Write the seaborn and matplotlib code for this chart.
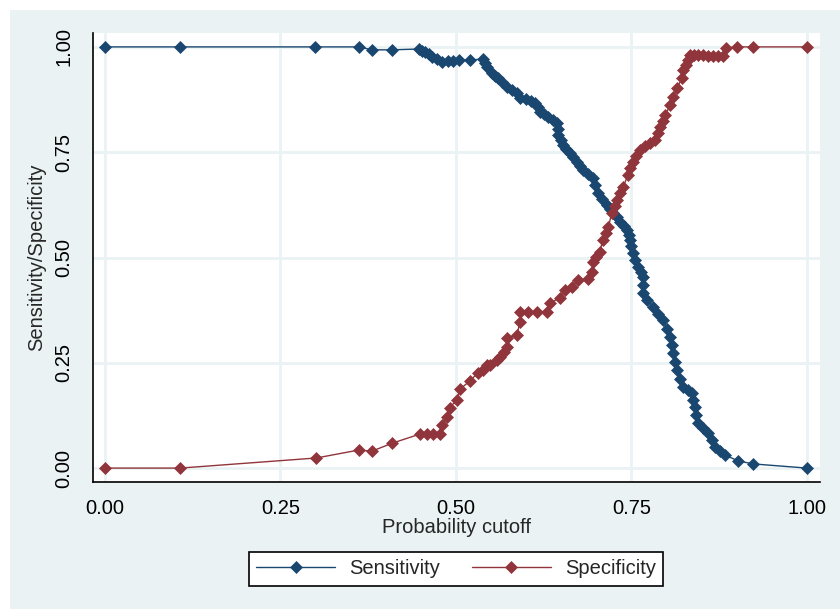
import matplotlib
matplotlib.use('Agg')
import matplotlib.pyplot as plt
import matplotlib.patches as mpatches
import pandas as pd
import seaborn as sns

# Values
sens_cutoff = [0.000, 0.107, 0.299, 0.362, 0.380, 0.409, 0.447, 0.452, 0.456, 0.461,
               0.466, 0.473, 0.480, 0.489, 0.496, 0.504, 0.520, 0.538, 0.541, 0.544,
               0.551, 0.556, 0.560, 0.566, 0.573, 0.580, 0.587, 0.591, 0.600, 0.607,
               0.613, 0.617, 0.620, 0.626, 0.631, 0.638, 0.644, 0.645, 0.645, 0.649,
               0.652, 0.657, 0.662, 0.667, 0.672, 0.677, 0.681, 0.688, 0.695, 0.698,
               0.702, 0.708, 0.715, 0.720, 0.724, 0.729, 0.734, 0.739, 0.744, 0.746,
               0.748, 0.750, 0.752, 0.755, 0.759, 0.763, 0.766, 0.766, 0.766, 0.772,
               0.781, 0.788, 0.795, 0.800, 0.805, 0.807, 0.809, 0.812, 0.815, 0.819,
               0.823, 0.830, 0.836, 0.838, 0.840, 0.842, 0.845, 0.852, 0.859, 0.864,
               0.869, 0.876, 0.883, 0.902, 0.923, 1.000]
sensitivity = [1.000, 1.000, 1.000, 1.000, 0.993, 0.993, 0.995, 0.990, 0.988, 0.983,
               0.976, 0.971, 0.964, 0.967, 0.967, 0.969, 0.969, 0.971, 0.962, 0.952,
               0.938, 0.931, 0.926, 0.917, 0.905, 0.898, 0.891, 0.879, 0.876, 0.871,
               0.867, 0.857, 0.846, 0.840, 0.834, 0.826, 0.819, 0.805, 0.791, 0.779,
               0.767, 0.757, 0.748, 0.738, 0.727, 0.718, 0.708, 0.698, 0.689, 0.672,
               0.653, 0.639, 0.625, 0.615, 0.606, 0.595, 0.584, 0.575, 0.565, 0.553,
               0.542, 0.527, 0.511, 0.494, 0.477, 0.465, 0.454, 0.435, 0.416, 0.400,
               0.382, 0.367, 0.352, 0.331, 0.311, 0.292, 0.273, 0.253, 0.233, 0.212,
               0.192, 0.185, 0.178, 0.162, 0.145, 0.126, 0.107, 0.095, 0.083, 0.067,
               0.050, 0.040, 0.031, 0.017, 0.010, 0.000]

spec_cutoff = [0.000, 0.107, 0.301, 0.362, 0.380, 0.409, 0.449, 0.459, 0.467, 0.477,
               0.480, 0.487, 0.491, 0.501, 0.506, 0.520, 0.531, 0.538, 0.544, 0.548,
               0.558, 0.563, 0.568, 0.573, 0.573, 0.587, 0.591, 0.591, 0.603, 0.615,
               0.630, 0.634, 0.648, 0.655, 0.665, 0.674, 0.688, 0.694, 0.695, 0.700,
               0.705, 0.709, 0.713, 0.717, 0.722, 0.726, 0.729, 0.734, 0.738, 0.745,
               0.748, 0.752, 0.757, 0.762, 0.769, 0.776, 0.783, 0.788, 0.791, 0.795,
               0.798, 0.805, 0.809, 0.815, 0.822, 0.823, 0.827, 0.830, 0.833, 0.839,
               0.845, 0.852, 0.859, 0.866, 0.873, 0.880, 0.885, 0.900, 0.923, 1.000]
specificity = [0.000, 0.000, 0.024, 0.043, 0.040, 0.059, 0.081, 0.081, 0.081, 0.081,
               0.102, 0.121, 0.143, 0.162, 0.188, 0.207, 0.226, 0.233, 0.245, 0.245,
               0.257, 0.264, 0.276, 0.287, 0.309, 0.316, 0.347, 0.371, 0.371, 0.371,
               0.371, 0.392, 0.404, 0.423, 0.430, 0.447, 0.449, 0.466, 0.489, 0.501,
               0.513, 0.542, 0.557, 0.572, 0.606, 0.622, 0.637, 0.652, 0.667, 0.696,
               0.712, 0.727, 0.741, 0.755, 0.765, 0.772, 0.779, 0.795, 0.810, 0.824,
               0.838, 0.862, 0.881, 0.903, 0.926, 0.945, 0.957, 0.969, 0.981, 0.981,
               0.981, 0.981, 0.979, 0.979, 0.979, 0.979, 0.998, 1.000, 1.000, 1.000]

ticks = [0.00, 0.25, 0.50, 0.75, 1.00]
tick_labels = ['0.00', '0.25', '0.50', '0.75', '1.00']

navy = '#1A476F'
maroon = '#90353B'
bg = '#EAF2F3'

sns.set_style('white')
plt.rcParams['font.family'] = ['Liberation Sans', 'DejaVu Sans']

fig = plt.figure(figsize=(8.4, 6.09), dpi=100)
fig.patch.set_facecolor('white')
fig.add_artist(mpatches.Rectangle((10 / 840, 0), 830 / 840, 599 / 609,
                                  transform=fig.transFigure, facecolor=bg,
                                  edgecolor='none', zorder=-10))
ax = fig.add_axes([93 / 840, 127 / 609, 727 / 840, 449 / 609])
ax.set_facecolor('white')

df_sens = pd.DataFrame({'cutoff': sens_cutoff, 'value': sensitivity})
df_spec = pd.DataFrame({'cutoff': spec_cutoff, 'value': specificity})

sns.lineplot(data=df_sens, x='cutoff', y='value', ax=ax, color=navy, sort=False,
             estimator=None, marker='D', markersize=6.5, markeredgewidth=0.5,
             markeredgecolor=navy, linewidth=1, label='Sensitivity')
sns.lineplot(data=df_spec, x='cutoff', y='value', ax=ax, color=maroon, sort=False,
             estimator=None, marker='D', markersize=6.5, markeredgewidth=0.5,
             markeredgecolor=maroon, linewidth=1, label='Specificity')

ax.set_xlim(-0.017, 1.0185)
ax.set_ylim(-0.033, 1.033)
ax.set_xticks(ticks)
ax.set_xticklabels(tick_labels, fontsize=14.5)
ax.set_yticks(ticks)
ax.set_yticklabels(tick_labels, fontsize=14.5, rotation=90, va='center')
ax.grid(True, color=bg, linewidth=2)
ax.set_axisbelow(True)
for side in ['top', 'right']:
    ax.spines[side].set_visible(False)
for side in ['left', 'bottom']:
    ax.spines[side].set_color('black')
    ax.spines[side].set_linewidth(1.2)
ax.tick_params(axis='both', direction='out', length=5, width=1.2, color='black',
               labelcolor='black')
ax.tick_params(axis='x', pad=7)
ax.tick_params(axis='y', pad=9)

ax.set_xlabel('Probability cutoff', fontsize=14.5, labelpad=0)
ax.set_ylabel('Sensitivity/Specificity', fontsize=14.5, labelpad=6)

ax.legend(loc='center', bbox_to_anchor=(456 / 840, 1 - 569 / 609),
          bbox_transform=fig.transFigure, ncol=2, fontsize=14.5, frameon=True,
          fancybox=False, edgecolor='black', framealpha=1, handlelength=3.9,
          handletextpad=0.7, columnspacing=1.6, borderpad=0.35)
ax.get_legend().get_frame().set_linewidth(1.2)

fig.savefig('out.png', dpi=100, facecolor=fig.get_facecolor())
